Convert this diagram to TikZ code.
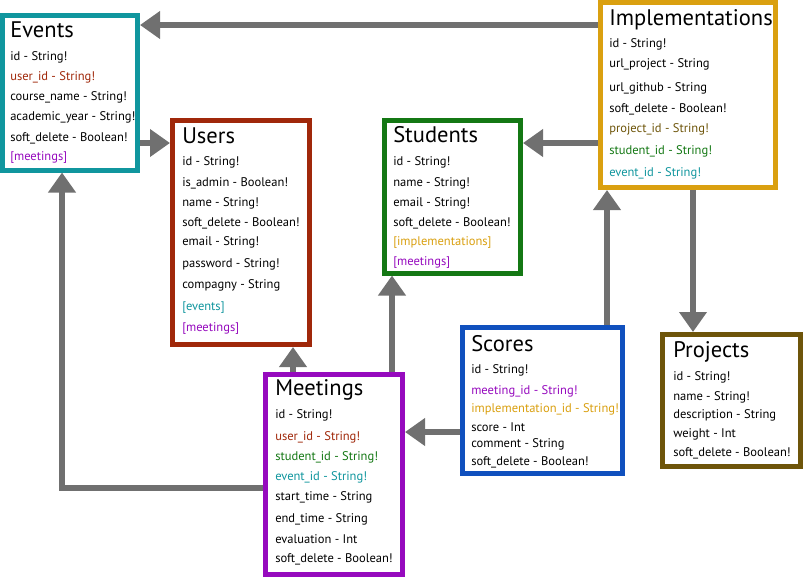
\documentclass[tikz,border=0pt]{standalone}
\usepackage{fontspec}
\setmainfont{PT Sans}
\usetikzlibrary{arrows.meta,fit}

\definecolor{evc}{RGB}{16,150,158}
\definecolor{usc}{RGB}{160,40,10}
\definecolor{stc}{RGB}{20,120,20}
\definecolor{imc}{RGB}{218,160,16}
\definecolor{mec}{RGB}{150,10,190}
\definecolor{scc}{RGB}{16,80,190}
\definecolor{prc}{RGB}{110,85,10}
\definecolor{linkc}{RGB}{112,112,112}

\begin{document}
\begin{tikzpicture}[x=0.75pt,y=-0.75pt,
	table_box/.style={draw=#1,fill=white,line width=3.75pt,inner sep=0pt},
	title/.style={anchor=base west,inner sep=0pt,font=\fontsize{16.9pt}{18pt}\selectfont},
	field/.style={anchor=base west,inner sep=0pt,font=\fontsize{9.4pt}{11pt}\selectfont},
	link/.style={draw=linkc,line width=4.5pt,-{Triangle[length=15pt,width=20pt]}}]

		\useasboundingbox (0,0) rectangle (803,576);

		% tables
		\node[table_box=evc,fit={(2.5,15) (137.5,170)}] (events) {};
		\node[table_box=usc,fit={(172.5,120.5) (309.5,344.5)}] (users) {};
		\node[table_box=stc,fit={(384.5,120.5) (520.5,273)}] (students) {};
		\node[table_box=imc,fit={(600.5,2.5) (775.5,187.5)}] (impl) {};
		\node[table_box=mec,fit={(265.5,374.5) (402.5,574)}] (meetings) {};
		\node[table_box=scc,fit={(462.5,327.5) (622.5,473)}] (scores) {};
		\node[table_box=prc,fit={(662.5,334.5) (800.5,466)}] (projects) {};

		% Events
		\node[title] (ev0) at (10,37) {Events};
		\foreach \y/\t [count=\i] in {60/id - String!,
			80/\textcolor{usc}{user\_id - String!},
			100/course\_name - String!,
			120/academic\_year - String!,
			141/soft\_delete - Boolean!,
			160/\textcolor{mec}{[meetings]}}
			\node[field] (ev\i) at (10,\y) {\t};

		% Users
		\node[title] (us0) at (182,143) {Users};
		\foreach \y/\t [count=\i] in {165/id - String!,
			186/is\_admin - Boolean!,
			206/name - String!,
			226/soft\_delete - Boolean!,
			245/email - String!,
			267/password - String!,
			288/compagny - String,
			310/\textcolor{evc}{[events]},
			331/\textcolor{mec}{[meetings]}}
			\node[field] (us\i) at (182,\y) {\t};

		% Students
		\node[title] (st0) at (393,142) {Students};
		\foreach \y/\t [count=\i] in {165/id - String!,
			186/name - String!,
			206/email - String!,
			226/soft\_delete - Boolean!,
			245/\textcolor{imc}{[implementations]},
			265/\textcolor{mec}{[meetings]}}
			\node[field] (st\i) at (393,\y) {\t};

		% Implementations
		\node[title] (im0) at (609,25) {Implementations};
		\foreach \y/\t [count=\i] in {47/id - String!,
			67/url\_project - String,
			91/url\_github - String,
			112/soft\_delete - Boolean!,
			132/\textcolor{prc}{project\_id - String!},
			154/\textcolor{stc}{student\_id - String!},
			176/\textcolor{evc}{event\_id - String!}}
			\node[field] (im\i) at (609,\y) {\t};

		% Meetings
		\node[title] (me0) at (275,395) {Meetings};
		\foreach \y/\t [count=\i] in {418/id - String!,
			440/\textcolor{usc}{user\_id - String!},
			460/\textcolor{stc}{student\_id - String!},
			480/\textcolor{evc}{event\_id - String!},
			500/start\_time - String,
			522/end\_time - String,
			543/evaluation - Int,
			562/soft\_delete - Boolean!}
			\node[field] (me\i) at (275,\y) {\t};

		% Scores
		\node[title] (sc0) at (471,351) {Scores};
		\foreach \y/\t [count=\i] in {373/id - String!,
			394/\textcolor{mec}{meeting\_id - String!},
			412/\textcolor{imc}{implementation\_id - String!},
			431/score - Int,
			447/comment - String,
			465/soft\_delete - Boolean!}
			\node[field] (sc\i) at (471,\y) {\t};

		% Projects
		\node[title] (pr0) at (673,357) {Projects};
		\foreach \y/\t [count=\i] in {380/id - String!,
			400/name - String!,
			418/description - String,
			437/weight - Int,
			456/soft\_delete - Boolean!}
			\node[field] (pr\i) at (673,\y) {\t};

		% links
		\draw[link] (impl.west |- 0,25) -- (events.east |- 0,25);
		\draw[link] (events.east |- 0,143) -- (users.west |- 0,143);
		\draw[link] (meetings.west |- 0,488) -| (events.south -| 62,0);
		\draw[link] (meetings.north -| 293,0) -- (users.south -| 293,0);
		\draw[link] (meetings.north -| 392,0) -- (students.south -| 392,0);
		\draw[link] (impl.west |- 0,143) -- (students.east |- 0,143);
		\draw[link] (scores.north -| 607,0) -- (impl.south -| 607,0);
		\draw[link] (impl.south -| 693,0) -- (projects.north -| 693,0);
		\draw[link] (scores.west |- 0,432) -- (meetings.east |- 0,432);
		\end{tikzpicture}
\end{document}
